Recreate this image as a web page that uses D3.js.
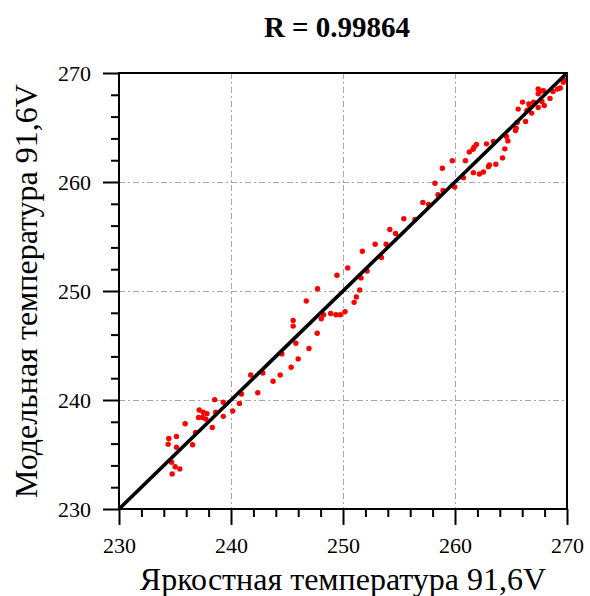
<!DOCTYPE html>
<html>
<head>
<meta charset="utf-8">
<script src="https://d3js.org/d3.v7.min.js"></script>
<style>
  body { margin: 0; background: #fff; }
  svg { display: block; }
  text { font-family: "Liberation Serif", "Tinos", "Times New Roman", "DejaVu Serif", serif; }
</style>
</head>
<body>
<script>
const titleText = "R = 0.99864";
const xLabel = "Яркостная температура 91,6V";
const yLabel = "Модельная температура 91,6V";
const domain = [230, 270];
const majorTicks = [230, 240, 250, 260, 270];
const gridTicks = [240, 250, 260];
const fitLine = [[230, 230], [270, 270]];

const brightnessTemp = [
  234.39, 234.45, 235.13, 235.13, 234.69, 234.75, 235.01, 235.43, 235.91, 236.57,
  236.84, 237.16, 237.10, 237.52, 237.85, 237.46, 237.76, 238.33, 238.54, 238.63,
  239.31, 239.31, 240.15, 240.75, 240.93, 241.76, 242.39, 242.84, 243.76, 244.39,
  244.54, 245.37, 245.55, 245.55, 245.79, 246.00, 246.72, 246.96, 247.70, 247.73,
  248.06, 248.27, 248.90, 249.46, 249.37, 249.76, 250.18, 250.42, 250.99, 251.19,
  251.49, 251.61, 251.73, 252.15, 252.87, 253.43, 253.85, 254.18, 254.69, 255.43,
  256.42, 257.13, 257.64, 258.21, 258.48, 258.87, 258.93, 259.76, 259.97, 260.75,
  260.93, 261.28, 261.61, 261.70, 261.91, 261.64, 262.18, 262.54, 262.81, 262.99,
  263.07, 263.43, 263.64, 264.24, 264.45, 264.60, 264.72, 265.40, 265.46, 265.55,
  265.64, 266.03, 266.30, 266.42, 266.60, 266.69, 266.84, 267.02, 267.43, 267.43,
  267.67, 267.91, 267.43, 267.97, 268.48, 268.75, 269.16, 269.40, 269.67, 269.82,
  267.76
];
const modelTemp = [
  235.95, 236.47, 236.66, 235.67, 234.29, 233.22, 233.87, 233.68, 237.82, 235.89,
  237.03, 239.08, 238.40, 238.87, 238.74, 238.40, 238.25, 237.48, 240.03, 238.87,
  239.79, 238.50, 238.99, 239.69, 240.55, 242.30, 240.67, 242.48, 241.72, 242.30,
  244.23, 243.01, 246.78, 247.30, 245.21, 243.77, 249.08, 244.72, 246.13, 250.21,
  247.45, 247.82, 247.94, 251.44, 247.82, 247.82, 248.10, 252.12, 248.96, 249.45,
  250.09, 251.20, 253.65, 251.84, 254.29, 253.07, 254.29, 255.64, 255.28, 256.63,
  256.56, 258.13, 257.94, 259.88, 258.83, 261.26, 259.23, 261.96, 259.54, 260.40,
  261.96, 262.76, 263.01, 263.19, 263.44, 260.86, 260.74, 260.92, 263.50, 261.41,
  261.56, 263.71, 261.63, 262.21, 263.04, 264.17, 263.77, 264.72, 264.94, 265.46,
  266.69, 267.33, 265.55, 266.56, 267.15, 266.87, 266.32, 267.33, 268.53, 268.10,
  268.34, 268.37, 266.84, 267.02, 267.67, 268.31, 268.53, 268.62, 269.14, 269.33,
  267.39
];

const W = 590, H = 596;
const plot = { left: 119, right: 567, top: 73, bottom: 509 };

const svg = d3.select("body").append("svg").attr("width", W).attr("height", H);

const x = d3.scaleLinear().domain(domain).range([plot.left, plot.right]);
const y = d3.scaleLinear().domain(domain).range([plot.bottom, plot.top]);

// grid
const grid = svg.append("g").attr("stroke", "#a6a6a6").attr("stroke-width", 1)
  .attr("stroke-dasharray", "6,3,2,3").attr("fill", "none");
grid.selectAll("line.gx").data(gridTicks).join("line").attr("class", "gx")
  .attr("x1", d => Math.round(x(d)) + 0.5).attr("x2", d => Math.round(x(d)) + 0.5)
  .attr("y1", plot.top).attr("y2", plot.bottom);
grid.selectAll("line.gy").data(gridTicks).join("line").attr("class", "gy")
  .attr("y1", d => Math.round(y(d)) + 0.5).attr("y2", d => Math.round(y(d)) + 0.5)
  .attr("x1", plot.left).attr("x2", plot.right);

// points
const pts = d3.zip(brightnessTemp, modelTemp);
svg.append("g").selectAll("circle").data(pts).join("circle")
  .attr("cx", d => x(d[0])).attr("cy", d => y(d[1])).attr("r", 2.7)
  .attr("fill", "#ff0000");

// 1:1 line
svg.append("line")
  .attr("x1", x(fitLine[0][0])).attr("y1", y(fitLine[0][1]))
  .attr("x2", x(fitLine[1][0])).attr("y2", y(fitLine[1][1]))
  .attr("stroke", "#000").attr("stroke-width", 3.6);

// frame
svg.append("rect").attr("x", plot.left).attr("y", plot.top)
  .attr("width", plot.right - plot.left).attr("height", plot.bottom - plot.top)
  .attr("fill", "none").attr("stroke", "#000").attr("stroke-width", 2);

// axes
const minorTicks = d3.range(domain[0], domain[1] + 0.01, 2).filter(v => !majorTicks.includes(v));
function styleAxis(g) {
  g.select(".domain").remove();
  g.selectAll(".tick line").attr("stroke", "#000").attr("stroke-width", 2);
  g.selectAll(".tick text").attr("font-family", null).attr("font-size", 22).attr("fill", "#000");
}
svg.append("g").attr("transform", `translate(0,${plot.bottom})`)
  .call(d3.axisBottom(x).tickValues(majorTicks).tickSize(16).tickPadding(12).tickFormat(d3.format("d")))
  .call(styleAxis);
svg.append("g").attr("transform", `translate(0,${plot.bottom})`)
  .call(d3.axisBottom(x).tickValues(minorTicks).tickSize(8).tickFormat(""))
  .call(styleAxis);
svg.append("g").attr("transform", `translate(${plot.left},0)`)
  .call(d3.axisLeft(y).tickValues(majorTicks).tickSize(16).tickPadding(12).tickFormat(d3.format("d")))
  .call(styleAxis);
svg.append("g").attr("transform", `translate(${plot.left},0)`)
  .call(d3.axisLeft(y).tickValues(minorTicks).tickSize(8).tickFormat(""))
  .call(styleAxis);

// title
svg.append("text").attr("x", 337).attr("y", 37).attr("text-anchor", "middle")
  .attr("font-weight", "bold").attr("font-size", 29)
  .text(titleText);

// axis labels
svg.append("text").attr("x", (plot.left + plot.right) / 2).attr("y", 590)
  .attr("text-anchor", "middle").attr("font-size", 32)
  .text(xLabel);
svg.append("text")
  .attr("transform", `translate(37,${(plot.top + plot.bottom) / 2}) rotate(-90)`)
  .attr("text-anchor", "middle").attr("font-size", 32)
  .text(yLabel);
</script>
</body>
</html>
